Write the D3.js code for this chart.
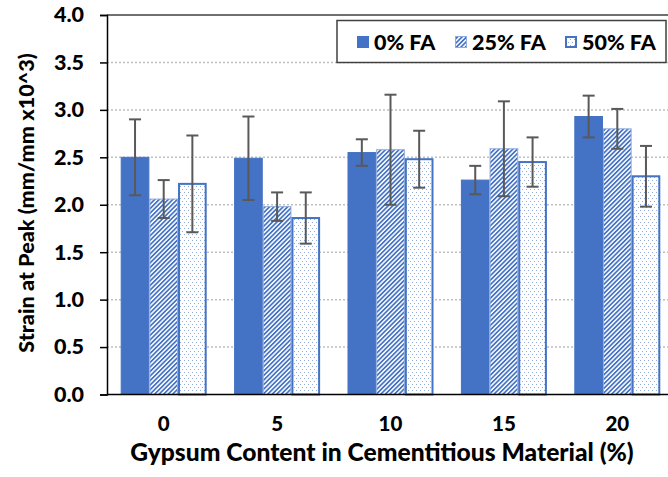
<!DOCTYPE html>
<html>
<head>
<meta charset="utf-8">
<script src="https://cdn.jsdelivr.net/npm/d3@7"></script>
<style>
  html, body { margin: 0; padding: 0; background: #fff; }
  svg { display: block; font-family: Lato, "Open Sans", sans-serif; font-weight: 900; }
</style>
</head>
<body>
<svg id="chart" width="668" height="477"></svg>
<script>
// Gypsum content groups (x axis)
const categories = ["0", "5", "10", "15", "20"];
// Fly ash replacement series
const seriesNames = ["0% FA", "25% FA", "50% FA"];
// Mean strain at peak (mm/mm x10^3)
const fa0 = [2.50, 2.49, 2.55, 2.26, 2.93];
const fa25 = [2.06, 1.98, 2.58, 2.59, 2.80];
const fa50 = [2.22, 1.86, 2.48, 2.45, 2.30];
// Error bar half-widths (±)
const err0 = [0.40, 0.44, 0.14, 0.15, 0.22];
const err25 = [0.20, 0.15, 0.58, 0.50, 0.21];
const err50 = [0.51, 0.27, 0.30, 0.26, 0.32];
const yTicks = [0, 0.5, 1.0, 1.5, 2.0, 2.5, 3.0, 3.5, 4.0];

const means = [fa0, fa25, fa50];
const errs = [err0, err25, err50];

const svg = d3.select("#chart");
const W = 668, H = 477;
const plotLeft = 107, plotTop = 15, plotBottom = 394.5, plotRight = 674;

const x = d3.scaleBand().domain(categories).range([plotLeft, plotRight])
  .paddingInner(0.2416).paddingOuter(0.1208);
const xs = d3.scaleBand().domain(seriesNames).range([0, x.bandwidth()]);
const y = d3.scaleLinear().domain([0, 4]).range([plotBottom, plotTop]);

// Fill patterns
const defs = svg.append("defs");
const hatch = defs.append("pattern").attr("id", "hatch")
  .attr("patternUnits", "userSpaceOnUse").attr("width", 3.2).attr("height", 3.2)
  .attr("patternTransform", "rotate(45)");
hatch.append("rect").attr("width", 3.2).attr("height", 3.2).attr("fill", "#fff");
hatch.append("rect").attr("width", 1.7).attr("height", 3.2).attr("fill", "#4472C4");

const dots = defs.append("pattern").attr("id", "dots")
  .attr("patternUnits", "userSpaceOnUse").attr("width", 4).attr("height", 6);
dots.append("rect").attr("width", 4).attr("height", 6).attr("fill", "#fff");
dots.append("rect").attr("x", 0).attr("y", 0).attr("width", 1).attr("height", 1).attr("fill", "#8FAADC");
dots.append("rect").attr("x", 2).attr("y", 3).attr("width", 1).attr("height", 1).attr("fill", "#8FAADC");

const fills = ["#4472C4", "url(#hatch)", "url(#dots)"];
const strokes = ["#4472C4", "#8FAADC", "#4472C4"];
const strokeW = [1, 1, 2];

// Gridlines
svg.append("g").selectAll("line")
  .data(yTicks.filter(t => t > 0 && t < 4))
  .join("line")
  .attr("x1", plotLeft).attr("x2", W)
  .attr("y1", d => y(d)).attr("y2", d => y(d))
  .attr("stroke", "#BFBFBF").attr("stroke-width", 1.5)
  .attr("stroke-dasharray", "2,2");
svg.append("line")
  .attr("x1", plotLeft).attr("x2", W).attr("y1", y(4)).attr("y2", y(4))
  .attr("stroke", "#404040").attr("stroke-width", 1.5);

// Bars
const barData = [];
categories.forEach((c, i) => {
  seriesNames.forEach((s, j) => {
    barData.push({ c, s, j, v: means[j][i], e: errs[j][i] });
  });
});

const bars = svg.append("g");
bars.selectAll("rect").data(barData).join("rect")
  .attr("x", d => x(d.c) + xs(d.s) + strokeW[d.j] / 2)
  .attr("width", d => xs.bandwidth() - strokeW[d.j])
  .attr("y", d => y(d.v))
  .attr("height", d => y(0) - y(d.v))
  .attr("fill", d => fills[d.j])
  .attr("stroke", d => strokes[d.j])
  .attr("stroke-width", d => strokeW[d.j]);

// Error bars
const eb = svg.append("g").attr("stroke", "#595959").attr("stroke-width", 2);
barData.forEach(d => {
  const cx = x(d.c) + xs(d.s) + xs.bandwidth() / 2;
  const y1 = y(d.v + d.e), y2 = y(d.v - d.e);
  eb.append("line").attr("x1", cx).attr("x2", cx).attr("y1", y1).attr("y2", y2);
  eb.append("line").attr("x1", cx - 6).attr("x2", cx + 6).attr("y1", y1).attr("y2", y1);
  eb.append("line").attr("x1", cx - 6).attr("x2", cx + 6).attr("y1", y2).attr("y2", y2);
});

// Y axis
const yAxis = svg.append("g").attr("transform", `translate(${plotLeft},0)`)
  .call(d3.axisLeft(y).tickValues(yTicks).tickFormat(d3.format(".1f")).tickSize(7).tickPadding(16));
yAxis.select(".domain").attr("stroke", "#000").attr("stroke-width", 1.5);
yAxis.selectAll(".tick line").attr("stroke", "#000").attr("stroke-width", 1.5);
yAxis.selectAll("text").attr("font-size", 21.5).attr("font-weight", 900)
  .attr("font-family", "Lato, sans-serif").attr("fill", "#000");

// X axis
const xAxis = svg.append("g").attr("transform", `translate(0,${plotBottom})`)
  .call(d3.axisBottom(x).tickSize(0).tickPadding(22));
xAxis.select(".domain").attr("d", `M${plotLeft},0H${W}`).attr("stroke", "#000").attr("stroke-width", 1.5);
xAxis.selectAll("text").attr("font-size", 20.5).attr("font-weight", 900)
  .attr("font-family", "Lato, sans-serif").attr("fill", "#000");

// Axis titles
svg.append("text")
  .attr("x", 382).attr("y", 460.5)
  .attr("text-anchor", "middle")
  .attr("font-size", 24.6).attr("fill", "#000")
  .text("Gypsum Content in Cementitious Material (%)");
svg.append("text")
  .attr("transform", "translate(34,203) rotate(-90)")
  .attr("text-anchor", "middle")
  .attr("font-size", 21.6).attr("fill", "#000")
  .text("Strain at Peak (mm/mm x10^3)");

// Legend
const lg = svg.append("g");
lg.append("rect").attr("x", 337).attr("y", 20.5).attr("width", 329).attr("height", 42)
  .attr("fill", "#fff").attr("stroke", "#404040").attr("stroke-width", 1.5);
const legendX = [357, 455, 565];
seriesNames.forEach((s, j) => {
  lg.append("rect").attr("x", legendX[j] + strokeW[j] / 2).attr("y", 36 + strokeW[j] / 2)
    .attr("width", 12 - strokeW[j]).attr("height", 12 - strokeW[j])
    .attr("fill", fills[j]).attr("stroke", strokes[j]).attr("stroke-width", strokeW[j]);
  lg.append("text").attr("x", legendX[j] + 17).attr("y", 49.5)
    .attr("font-size", 21.5).attr("fill", "#000").text(s);
});
</script>
</body>
</html>
